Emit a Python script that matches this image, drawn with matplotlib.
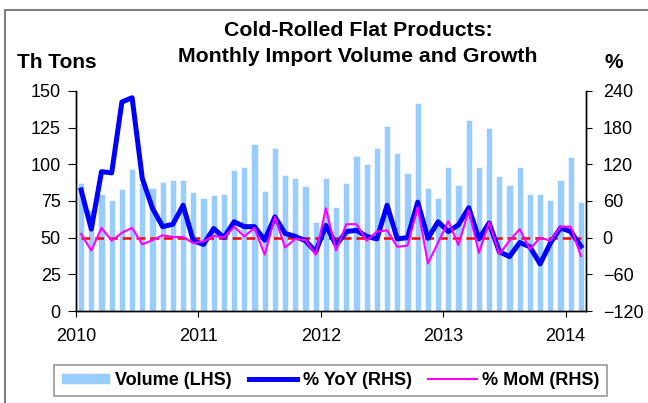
import matplotlib
matplotlib.use("Agg")
import matplotlib.pyplot as plt
import matplotlib.patches as patches
import numpy as np

# monthly data, Jan 2010 .. Feb 2014
volume = [87, 69, 80, 76, 83, 97, 87, 84, 88, 89, 89, 81,
          77, 79, 80, 96, 98, 114, 82, 111, 93, 91, 85, 61,
          91, 71, 87, 106, 100, 111, 126, 108, 94, 142, 84, 77,
          98, 86, 130, 98, 125, 92, 86, 98, 80, 80, 76, 89,
          105, 74]
yoy = [78, 14, 108, 106, 222, 229, 97, 48, 18, 22, 53, -5,
       -11, 15, 0, 26, 18, 18, -4, 34, 7, 2, -5, -23,
       20, -12, 10, 12, 2, -2, 53, -2, 0, 58, -1, 26,
       10, 21, 49, -2, 24, -23, -31, -8, -15, -43, -9, 16,
       10, -14]
mom = [6, -21, 16, -5, 8, 16, -11, -4, 4, 1, 1, -9,
       -6, 3, 0, 18, 2, 16, -28, 34, -16, -2, -4, -28,
       48, -21, 22, 22, -5, 10, 12, -15, -13, 50, -42, -8,
       27, -12, 45, -25, 25, -27, -5, 14, -19, 0, -5, 18,
       18, -30]
years = ['2010', '2011', '2012', '2013', '2014']

plt.rcParams['font.family'] = ['Liberation Sans', 'DejaVu Sans']

W, H = 648, 403
fig = plt.figure(figsize=(W / 100, H / 100), dpi=100)
ax = fig.add_axes([76 / W, 1 - 311 / H, 510 / W, 220 / H])
ax2 = ax.twinx()

x = np.arange(len(volume))
bars = ax.bar(x, volume, width=0.62, color='#99CCFF', edgecolor='white', linewidth=0.4,
              label='Volume (LHS)')
ax.set_xlim(-0.5, len(volume) - 0.5)
ax.set_ylim(0, 150)
ax.set_yticks(np.arange(0, 151, 25))
ax.set_xticks(np.arange(len(years)) * 12 - 0.5)
ax.set_xticklabels(years)

ax2.plot(x, np.zeros(len(x)), color='#FF0000', lw=1.8, ls=(0, (3.5, 2)), zorder=2)
l1, = ax2.plot(x, yoy, color='#0000FF', lw=3.6, label='% YoY (RHS)', zorder=3)
l2, = ax2.plot(x, mom, color='#FF00FF', lw=1.5, label='% MoM (RHS)', zorder=4)
ax2.set_ylim(-120, 240)
ax2.set_yticks(np.arange(-120, 241, 60))

for a in (ax, ax2):
    a.spines['top'].set_visible(False)
    for s in a.spines.values():
        s.set_linewidth(1.0)
ax.tick_params(axis='y', direction='out', length=6, pad=5, labelsize=13)
ax.tick_params(axis='x', direction='out', length=4, pad=8, labelsize=13)
ax2.tick_params(axis='y', direction='out', length=4, pad=8, labelsize=13)

fig.text(358 / W, 1 - 31 / H, 'Cold-Rolled Flat Products:', ha='center', va='center',
         fontsize=15.3, fontweight='bold')
fig.text(358 / W, 1 - 56 / H, 'Monthly Import Volume and Growth', ha='center', va='center',
         fontsize=15.3, fontweight='bold')
fig.text(17 / W, 1 - 63 / H, 'Th Tons', ha='left', va='center', fontsize=15, fontweight='bold')
fig.text(614 / W, 1 - 63 / H, '%', ha='center', va='center', fontsize=15, fontweight='bold')

leg = fig.legend([bars, l1, l2], ['Volume (LHS)', '% YoY (RHS)', '% MoM (RHS)'],
                 loc='center', ncol=3, bbox_to_anchor=(54 / W, 1 - 398 / H, 553 / W, 35 / H),
                 mode='expand', fancybox=False, frameon=True, edgecolor='#808080',
                 prop={'weight': 'bold', 'size': 13}, handlelength=2.7, handleheight=0.5,
                 borderaxespad=0, columnspacing=0.8, handletextpad=0.3)
leg.get_frame().set_linewidth(1.2)

# outer chart frame (only left and top edge visible)
fig.patches.append(patches.Rectangle((5 / W, -0.05), 1.0, 1.05 - 10 / H, transform=fig.transFigure,
                                     fill=False, edgecolor='#808080', lw=1.5))

fig.savefig('out.png', dpi=100)
